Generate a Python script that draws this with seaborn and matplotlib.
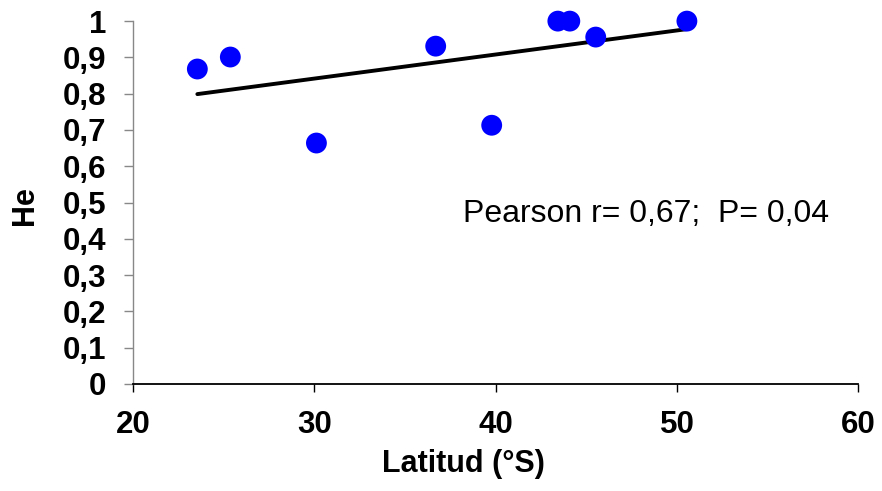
import matplotlib
matplotlib.use("Agg")
import matplotlib.pyplot as plt
import seaborn as sns
import pandas as pd
from matplotlib.ticker import FuncFormatter

latitud = [23.54, 25.36, 30.11, 36.69, 39.78, 43.43, 44.09, 45.52, 50.55]
he = [0.868, 0.901, 0.664, 0.931, 0.713, 1.0, 1.0, 0.956, 1.0]
x_ticks = [20, 30, 40, 50, 60]
y_ticks = [0, 0.1, 0.2, 0.3, 0.4, 0.5, 0.6, 0.7, 0.8, 0.9, 1.0]
annotation = "Pearson r= 0,67;  P= 0,04"

df = pd.DataFrame({"Latitud": latitud, "He": he})

sns.set_theme(style="white")
plt.rcParams["font.family"] = ["Liberation Sans", "DejaVu Sans"]
plt.rcParams["text.color"] = "black"
plt.rcParams["axes.labelcolor"] = "black"
plt.rcParams["xtick.labelcolor"] = "black"
plt.rcParams["ytick.labelcolor"] = "black"

fig = plt.figure(figsize=(8.82, 4.91), dpi=100)
ax = fig.add_axes([0.151, 0.218, 0.822, 0.739])

sns.regplot(data=df, x="Latitud", y="He", ax=ax, ci=None, truncate=True,
            scatter_kws=dict(s=225, color="#0000FF", edgecolor="none", alpha=1, clip_on=False, zorder=3),
            line_kws=dict(color="black", lw=2.8, zorder=2))

ax.set_xlim(20, 60)
ax.set_ylim(0, 1)
ax.set_xticks(x_ticks)
ax.set_yticks(y_ticks)
ax.yaxis.set_major_formatter(FuncFormatter(lambda v, p: ("%g" % round(v, 1)).replace(".", ",")))

for s in ["top", "right"]:
    ax.spines[s].set_visible(False)
ax.spines["left"].set_color("#888888")
ax.spines["left"].set_linewidth(1.0)
ax.spines["bottom"].set_color("black")
ax.spines["bottom"].set_linewidth(1.3)

ax.tick_params(axis="y", which="major", direction="out", length=6.5, width=1.0, color="#888888",
               labelsize=22.5, pad=13, left=True, labelcolor="black")
ax.tick_params(axis="x", which="major", direction="out", length=6, width=1.0, color="black",
               labelsize=22.5, pad=13, bottom=True, labelcolor="black")
for lab in ax.get_xticklabels() + ax.get_yticklabels():
    lab.set_fontweight("bold")

ax.set_xlabel("Latitud (°S)", fontsize=22, fontweight="bold", color="black")
ax.set_ylabel("He", fontsize=22, fontweight="bold", color="black")
ax.xaxis.set_label_coords(0.456, -0.178)
ax.xaxis.label.set_verticalalignment("top")
ax.yaxis.set_label_coords(-0.129, 0.493)

ax.text(38.2, 0.446, annotation, fontsize=23, ha="left", va="baseline", color="black")

fig.savefig("out.png", dpi=100)
